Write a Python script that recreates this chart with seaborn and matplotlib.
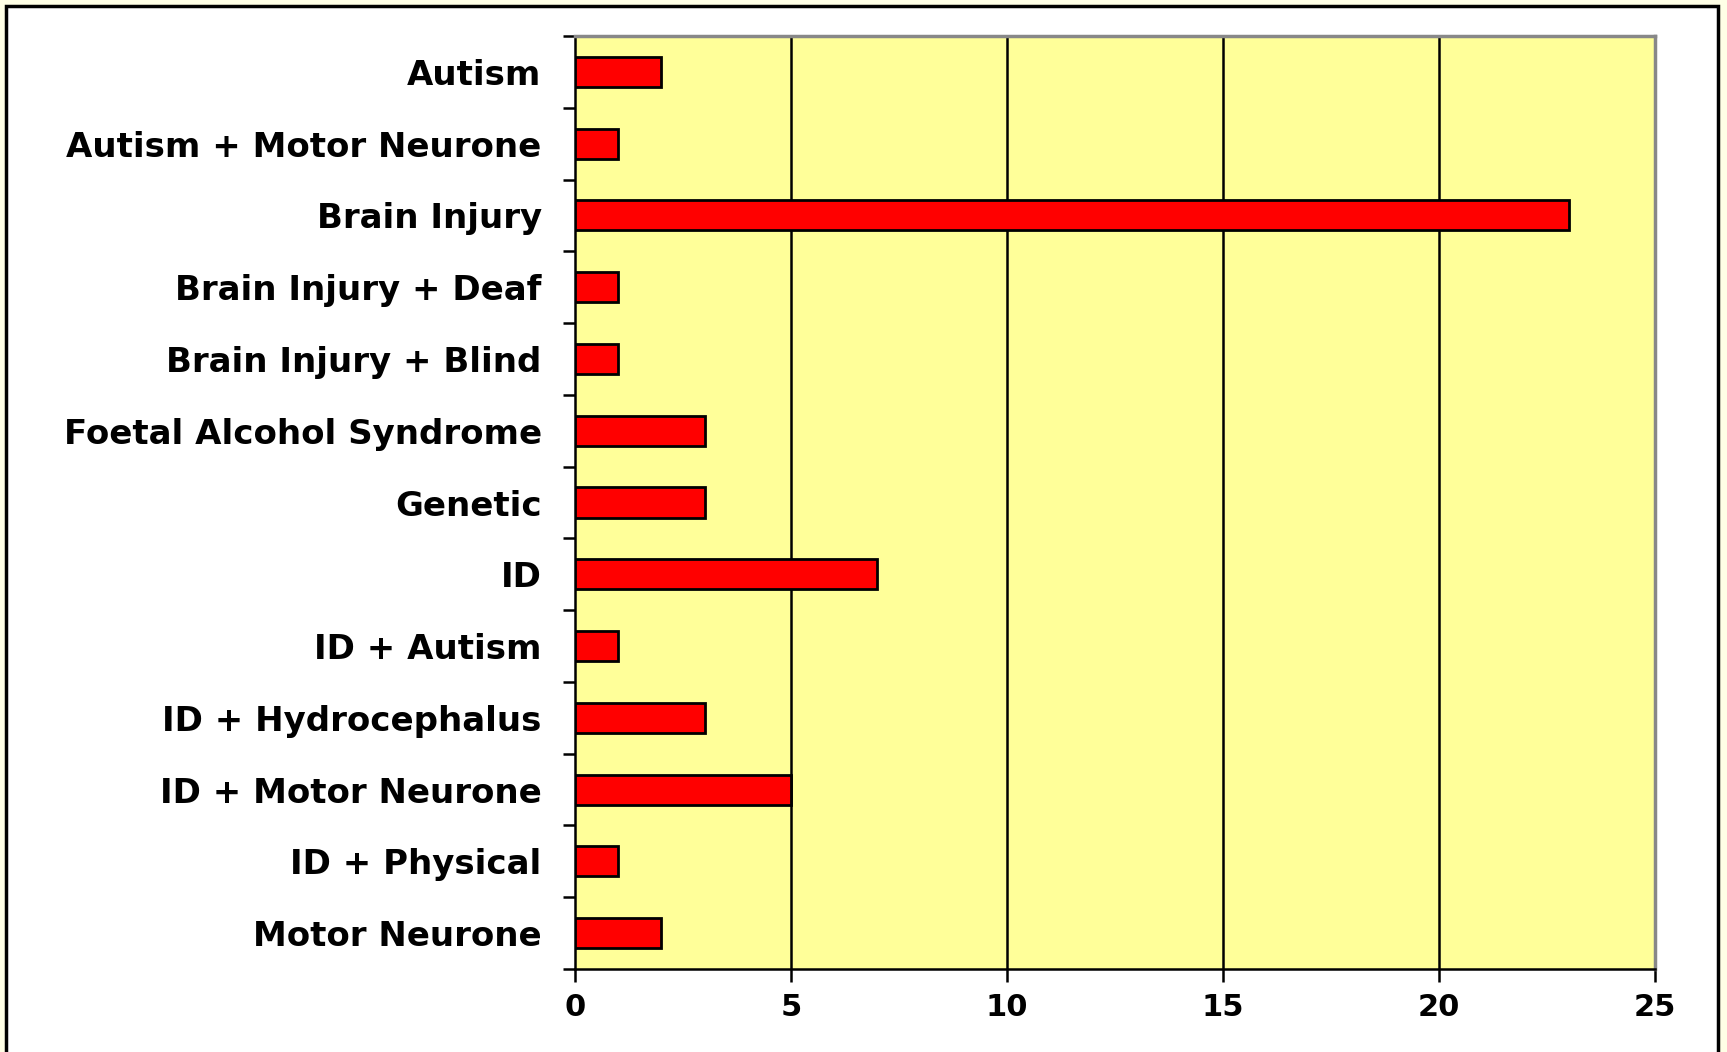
import matplotlib
matplotlib.use("Agg")
import matplotlib.pyplot as plt
import seaborn as sns
import pandas as pd
from matplotlib.patches import Rectangle

categories = ["Autism", "Autism + Motor Neurone", "Brain Injury", "Brain Injury + Deaf",
              "Brain Injury + Blind", "Foetal Alcohol Syndrome", "Genetic", "ID",
              "ID + Autism", "ID + Hydrocephalus", "ID + Motor Neurone", "ID + Physical",
              "Motor Neurone"]
values = [2, 1, 23, 1, 1, 3, 3, 7, 1, 3, 5, 1, 2]
x_ticks = [0, 5, 10, 15, 20, 25]

sns.set_theme(style="white")
plt.rcParams['font.family'] = ['DejaVu Sans']

df = pd.DataFrame({"category": categories, "value": values})

fig = plt.figure(figsize=(17.27, 10.52), dpi=100)
fig.patch.set_facecolor('#FFFFE6')
# outer white framed panel
frame = Rectangle((6/1727, -0.02), (1718-6)/1727, 1.02 - 6/1052,
                  transform=fig.transFigure, facecolor='white',
                  edgecolor='black', linewidth=2.5, zorder=-10)
fig.patches.append(frame)

ax = fig.add_axes([575/1727, 1 - 969/1052, (1655-575)/1727, (969-36)/1052])
ax.set_zorder(5)
ax.set_facecolor('#FFFF99')
sns.barplot(data=df, x="value", y="category", orient="h", color="#FF0000",
            edgecolor="black", linewidth=2, width=0.42, saturation=1, ax=ax, zorder=3)

ax.set_xlim(0, 25)
ax.set_ylim(len(categories) - 0.5, -0.5)
ax.set_xticks(x_ticks)
ax.set_xticklabels([str(t) for t in x_ticks], fontsize=22, fontweight='bold', color='black')
ax.set_yticks(range(len(categories)))
ax.set_yticklabels(categories, fontsize=24.5, fontweight='bold', color='black')
ax.set_yticks([i - 0.5 for i in range(len(categories) + 1)], minor=True)
ax.tick_params(axis='y', which='major', length=0, pad=24)
ax.tick_params(axis='y', which='minor', length=9, width=1.8, color='black', direction='out', left=True)
ax.tick_params(axis='x', which='major', length=9, width=1.8, color='black', direction='out', bottom=True, pad=8)

for x in x_ticks[1:-1]:
    ax.axvline(x, color='black', linewidth=1.8, zorder=1)

ax.set_xlabel("")
ax.set_ylabel("")
for s in ['left', 'bottom']:
    ax.spines[s].set_color('black')
    ax.spines[s].set_linewidth(1.8)
for s in ['top', 'right']:
    ax.spines[s].set_color('#888888')
    ax.spines[s].set_linewidth(2.5)

fig.savefig("out.png", dpi=100, facecolor=fig.get_facecolor())
